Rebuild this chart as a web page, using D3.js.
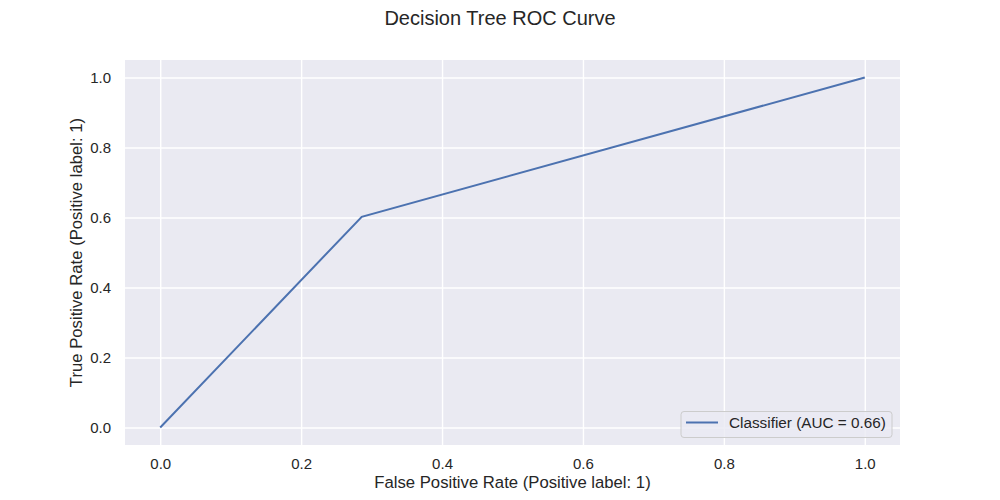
<!DOCTYPE html>
<html>
<head>
<meta charset="utf-8">
<script src="https://cdn.jsdelivr.net/npm/d3@7"></script>
<style>
  html, body { margin: 0; padding: 0; background: #fff; }
  text { font-family: "Liberation Sans", Arial, sans-serif; fill: #262626; }
</style>
</head>
<body>
<svg id="chart" width="1000" height="500"></svg>
<script>
const fpr = [0.0, 0.286, 1.0];
const tpr = [0.0, 0.602, 1.0];
const xTicks = [0.0, 0.2, 0.4, 0.6, 0.8, 1.0];
const yTicks = [0.0, 0.2, 0.4, 0.6, 0.8, 1.0];
const titleText = "Decision Tree ROC Curve";
const xLabel = "False Positive Rate (Positive label: 1)";
const yLabel = "True Positive Rate (Positive label: 1)";
const legendLabel = "Classifier (AUC = 0.66)";

const svg = d3.select("#chart");
const W = 1000, H = 500;
const m = { left: 125, right: 100, top: 60, bottom: 55 };
const pw = W - m.left - m.right, ph = H - m.top - m.bottom;

const x = d3.scaleLinear().domain([-0.05, 1.05]).range([m.left, m.left + pw]);
const y = d3.scaleLinear().domain([-0.05, 1.05]).range([m.top + ph, m.top]);

svg.append("rect").attr("x", m.left).attr("y", m.top).attr("width", pw).attr("height", ph).attr("fill", "#eaeaf2");

// Grid
const gx = svg.append("g").attr("transform", `translate(0,${m.top + ph})`)
  .call(d3.axisBottom(x).tickValues(xTicks).tickSize(-ph).tickFormat(d3.format(".1f")).tickPadding(13));
gx.select(".domain").remove();
gx.selectAll("line").attr("stroke", "#fff").attr("stroke-width", 1.4);
gx.selectAll("text").attr("font-size", "15px").attr("fill", "#262626").attr("dy", "0.71em");

const gy = svg.append("g").attr("transform", `translate(${m.left},0)`)
  .call(d3.axisLeft(y).tickValues(yTicks).tickSize(-pw).tickFormat(d3.format(".1f")).tickPadding(14));
gy.select(".domain").remove();
gy.selectAll("line").attr("stroke", "#fff").attr("stroke-width", 1.4);
gy.selectAll("text").attr("font-size", "15px").attr("fill", "#262626");

// Curve
const pts = fpr.map((d, i) => [d, tpr[i]]);
svg.append("path").datum(pts)
  .attr("d", d3.line().x(d => x(d[0])).y(d => y(d[1])))
  .attr("fill", "none").attr("stroke", "#4c72b0").attr("stroke-width", 2);

// Title and labels
svg.append("text").attr("x", W / 2).attr("y", 25).attr("text-anchor", "middle")
  .attr("font-size", "20px").text(titleText);
svg.append("text").attr("x", m.left + pw / 2).attr("y", 487.5).attr("text-anchor", "middle")
  .attr("font-size", "16.7px").text(xLabel);
svg.append("text").attr("transform", `translate(82,${m.top + ph / 2}) rotate(-90)`).attr("text-anchor", "middle")
  .attr("font-size", "16.7px").text(yLabel);

// Legend
const lg = svg.append("g");
lg.append("rect").attr("x", 681).attr("y", 411.5).attr("width", 211).attr("height", 26).attr("rx", 3)
  .attr("fill", "#eaeaf2").attr("fill-opacity", 0.8).attr("stroke", "#cccccc").attr("stroke-width", 1);
lg.append("line").attr("x1", 686).attr("x2", 718).attr("y1", 422.5).attr("y2", 422.5)
  .attr("stroke", "#4c72b0").attr("stroke-width", 2);
lg.append("text").attr("x", 729).attr("y", 427.5).attr("font-size", "15.3px").text(legendLabel);
</script>
</body>
</html>
